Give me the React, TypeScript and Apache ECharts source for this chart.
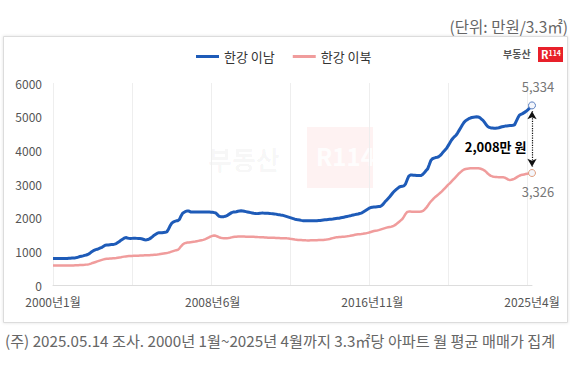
import React, { useEffect, useRef } from "react";
import * as echarts from "echarts";

const START_YEAR = 2000;
const END_YEAR = 2025;
const END_MONTH = 4;
const SERIES_NAMES = ["한강 이남", "한강 이북"];
const TITLE = "(단위: 만원/3.3㎡)";
const FOOTNOTE = "(주) 2025.05.14 조사. 2000년 1월~2025년 4월까지 3.3㎡당 아파트 월 평균 매매가 집계";
const Y_TICKS = [0, 1000, 2000, 3000, 4000, 5000, 6000];

// 한강 이남 (monthly, 2000.01 ~ 2025.04)
const SOUTH = [
  790, 790, 790, 790, 790, 790, 790, 790, 790, 790, 795, 795,
  800, 800, 805, 815, 830, 845, 855, 865, 880, 890, 905, 930,
  970, 1000, 1030, 1050, 1060, 1080, 1100, 1120, 1150, 1180, 1185, 1190,
  1195, 1200, 1205, 1215, 1230, 1260, 1290, 1330, 1360, 1390, 1410, 1395,
  1385, 1380, 1385, 1390, 1390, 1385, 1380, 1380, 1375, 1360, 1345, 1340,
  1350, 1370, 1400, 1440, 1480, 1510, 1540, 1550, 1555, 1555, 1560, 1565,
  1580, 1650, 1750, 1830, 1870, 1890, 1905, 1910, 1950, 2050, 2130, 2160,
  2185, 2200, 2195, 2170, 2165, 2165, 2170, 2170, 2165, 2165, 2170, 2170,
  2165, 2165, 2170, 2165, 2160, 2160, 2150, 2140, 2090, 2040, 2030, 2025,
  2030, 2040, 2060, 2090, 2120, 2150, 2165, 2170, 2175, 2190, 2200, 2205,
  2200, 2190, 2180, 2170, 2160, 2150, 2140, 2130, 2125, 2120, 2125, 2130,
  2135, 2135, 2130, 2130, 2130, 2125, 2120, 2115, 2110, 2105, 2095, 2090,
  2080, 2075, 2060, 2045, 2030, 2015, 2000, 1985, 1970, 1955, 1945, 1935,
  1930, 1920, 1912, 1910, 1908, 1908, 1910, 1910, 1910, 1908, 1910, 1912,
  1915, 1918, 1925, 1930, 1935, 1940, 1945, 1950, 1955, 1960, 1968, 1975,
  1980, 1985, 1995, 2005, 2015, 2025, 2035, 2045, 2055, 2070, 2080, 2090,
  2100, 2110, 2125, 2135, 2160, 2190, 2220, 2250, 2280, 2300, 2310, 2315,
  2320, 2325, 2330, 2335, 2360, 2410, 2470, 2520, 2570, 2620, 2680, 2740,
  2790, 2830, 2870, 2910, 2925, 2935, 2945, 3000, 3120, 3230, 3265, 3265,
  3260, 3260, 3255, 3250, 3250, 3255, 3290, 3340, 3400, 3450, 3570, 3700,
  3750, 3770, 3785, 3795, 3810, 3850, 3900, 3960, 4010, 4060, 4140, 4220,
  4300, 4360, 4410, 4450, 4520, 4600, 4680, 4760, 4830, 4880, 4910, 4940,
  4960, 4975, 4985, 4990, 4995, 4990, 4970, 4930, 4890, 4830, 4760, 4710,
  4680, 4665, 4660, 4655, 4655, 4660, 4670, 4685, 4700, 4710, 4720, 4725,
  4730, 4735, 4740, 4745, 4760, 4860, 4960, 5040, 5070, 5090, 5120, 5150,
  5190, 5230, 5280, 5334,
];

// 한강 이북 (monthly, 2000.01 ~ 2025.04)
const NORTH = [
  578, 578, 578, 578, 578, 578, 578, 578, 578, 579, 579, 580,
  580, 582, 585, 588, 590, 592, 594, 596, 600, 605, 612, 620,
  635, 655, 670, 685, 700, 715, 730, 745, 760, 772, 778, 782,
  785, 788, 792, 796, 802, 810, 818, 826, 835, 843, 850, 855,
  858, 861, 864, 866, 868, 870, 872, 874, 876, 878, 880, 881,
  883, 886, 890, 893, 897, 900, 905, 912, 920, 928, 936, 944,
  952, 962, 975, 990, 1005, 1020, 1035, 1045, 1090, 1150, 1200, 1235,
  1250, 1260, 1265, 1272, 1278, 1284, 1290, 1300, 1310, 1320, 1330, 1340,
  1355, 1375, 1400, 1425, 1445, 1460, 1468, 1460, 1440, 1420, 1405, 1395,
  1390, 1388, 1392, 1398, 1405, 1415, 1425, 1432, 1436, 1440, 1440, 1440,
  1438, 1438, 1436, 1436, 1436, 1434, 1432, 1430, 1428, 1425, 1422, 1420,
  1418, 1416, 1413, 1410, 1406, 1405, 1404, 1402, 1400, 1398, 1396, 1394,
  1392, 1390, 1388, 1386, 1385, 1380, 1372, 1365, 1358, 1350, 1345, 1340,
  1336, 1333, 1330, 1328, 1326, 1325, 1325, 1326, 1327, 1328, 1330, 1332,
  1334, 1336, 1338, 1340, 1345, 1350, 1358, 1368, 1380, 1392, 1404, 1415,
  1420, 1425, 1428, 1432, 1436, 1440, 1445, 1452, 1460, 1470, 1480, 1490,
  1498, 1505, 1510, 1515, 1522, 1530, 1538, 1548, 1560, 1575, 1590, 1605,
  1614, 1620, 1630, 1645, 1660, 1675, 1690, 1705, 1715, 1725, 1733, 1745,
  1770, 1800, 1840, 1880, 1920, 1960, 2030, 2110, 2170, 2180, 2180, 2178,
  2176, 2175, 2175, 2175, 2177, 2180, 2200, 2240, 2290, 2350, 2420, 2480,
  2530, 2580, 2620, 2660, 2700, 2740, 2780, 2830, 2880, 2930, 2980, 3020,
  3070, 3120, 3170, 3220, 3270, 3320, 3360, 3400, 3430, 3445, 3455, 3460,
  3465, 3468, 3470, 3470, 3468, 3465, 3460, 3445, 3425, 3400, 3360, 3310,
  3270, 3240, 3225, 3215, 3210, 3205, 3202, 3200, 3200, 3198, 3185, 3160,
  3130, 3120, 3125, 3140, 3160, 3190, 3220, 3245, 3265, 3275, 3285, 3295,
  3305, 3315, 3320, 3326,
];

const BLUE = "#1e5bb8";
const PINK = "#f09c9c";
const FONT = "'Noto Sans CJK KR', 'Noto Sans', sans-serif";

function buildCategories(): string[] {
  const out: string[] = [];
  for (let y = START_YEAR; y <= END_YEAR; y++) {
    for (let m = 1; m <= 12; m++) {
      if (y === END_YEAR && m > END_MONTH) break;
      out.push(`${y}년${m}월`);
    }
  }
  return out;
}

export default function App() {
  const ref = useRef<HTMLDivElement>(null);

  useEffect(() => {
    if (!ref.current) return;
    const chart = echarts.init(ref.current, null, { renderer: "svg" });
    const categories = buildCategories();
    const last = categories.length - 1;
    const southLast = SOUTH[last];
    const northLast = NORTH[last];
    const diff = southLast - northLast;

    const endPoint = (v: number, color: string, pos: string, off: number[]) => ({
      value: v,
      symbol: "circle",
      symbolSize: 7,
      itemStyle: { color: "#f4f6fb", borderColor: color, borderWidth: 1 },
      label: {
        show: true,
        position: pos,
        formatter: () => v.toLocaleString("en-US"),
        color: "#777",
        fontSize: 13,
        fontFamily: FONT,
        offset: off,
      },
    });

    const southData: any[] = SOUTH.map((v) => v);
    southData[last] = endPoint(southLast, "#5a7fc0", "top", [6, -3]);
    const northData: any[] = NORTH.map((v) => v);
    northData[last] = endPoint(northLast, "#e0a080", "bottom", [6, 3]);

    chart.setOption({
      animation: false,
      backgroundColor: "#fff",
      textStyle: { fontFamily: FONT },
      grid: { left: 53, right: 38, top: 83, bottom: 88, containLabel: false },
      legend: {
        data: SERIES_NAMES,
        top: 45,
        left: 191,
        icon: "rect",
        itemWidth: 23,
        itemHeight: 3,
        itemGap: 18,
        textStyle: { fontSize: 13, color: "#333", fontFamily: FONT },
      },
      xAxis: {
        type: "category",
        data: categories,
        boundaryGap: false,
        axisLine: { lineStyle: { color: "#ddd" } },
        axisTick: { show: false },
        axisLabel: {
          interval: (i: number) => i % 101 === 0,
          color: "#555",
          fontSize: 12,
          margin: 10,
          fontFamily: FONT,
        },
        splitLine: {
          show: true,
          interval: (i: number) => i % 50 === 0,
          lineStyle: { color: "#eeeeee", width: 1 },
        },
      },
      yAxis: {
        type: "value",
        min: Y_TICKS[0],
        max: Y_TICKS[Y_TICKS.length - 1],
        interval: Y_TICKS[1] - Y_TICKS[0],
        axisLine: { show: false },
        axisTick: { show: false },
        splitLine: { show: false },
        axisLabel: {
          color: "#555",
          fontSize: 12,
          margin: 11,
          fontFamily: FONT,
          formatter: (v: number) => String(v),
        },
      },
      graphic: [
        {
          type: "rect",
          z: -10,
          silent: true,
          shape: { x: 3.5, y: 36.5, width: 564, height: 286 },
          style: { fill: "#fff", stroke: "#dcdcdc", lineWidth: 1, shadowBlur: 3, shadowColor: "rgba(0,0,0,0.12)" },
        },
        {
          type: "text",
          right: 2,
          top: 18,
          style: { text: TITLE, fill: "#666", fontSize: 15.5, fontFamily: FONT },
        },
        {
          type: "text",
          left: 5,
          top: 332,
          style: { text: FOOTNOTE, fill: "#666", fontSize: 15.2, fontFamily: FONT },
        },
        // logo
        {
          type: "text",
          left: 503,
          top: 48,
          style: { text: "부동산", fill: "#555", fontSize: 10, fontWeight: "bold", fontFamily: FONT },
        },
        {
          type: "rect",
          shape: { x: 538, y: 47, width: 25, height: 15 },
          style: { fill: "#e8202a" },
        },
        {
          type: "text",
          left: 541,
          top: 48,
          style: {
            text: "{r|R}{n|114}",
            rich: {
              r: { fill: "#fff", fontSize: 11, fontWeight: "bold", fontFamily: FONT, verticalAlign: "bottom", lineHeight: 13 },
              n: { fill: "#fff", fontSize: 7, fontWeight: "bold", fontFamily: FONT, verticalAlign: "bottom", lineHeight: 13, padding: [0, 0, 2, 0] },
            },
          },
        },
        // watermark
        {
          type: "text",
          left: 208,
          top: 145,
          z: -5,
          style: { text: "부동산", fill: "rgba(0,0,0,0.04)", fontSize: 26, fontWeight: "bold", fontFamily: FONT },
        },
        {
          type: "rect",
          z: -5,
          shape: { x: 307, y: 127, width: 66, height: 61 },
          style: { fill: "rgba(230,40,40,0.06)" },
        },
        {
          type: "text",
          left: 316,
          top: 143,
          z: -4,
          style: { text: "R114", fill: "rgba(255,255,255,0.9)", fontSize: 24, fontWeight: "bold", fontFamily: FONT },
        },
      ],
      series: [
        {
          name: SERIES_NAMES[0],
          type: "line",
          data: southData,
          symbol: "none",
          showSymbol: true,
          showAllSymbol: true,
          lineStyle: { color: BLUE, width: 3 },
          itemStyle: { color: BLUE },
          z: 3,
          markLine: {
            silent: true,
            symbol: ["arrow", "arrow"],
            symbolSize: [7, 8],
            lineStyle: { type: "dotted", color: "#111", width: 1.2 },
            label: { show: false },
            data: [
              [
                { coord: [last, southLast - 170] },
                { coord: [last, northLast + 190] },
              ],
            ],
          },
          markPoint: {
            silent: true,
            data: [
              {
                coord: [last, (southLast + northLast) / 2],
                symbol: "circle",
                symbolSize: 1,
                itemStyle: { color: "rgba(0,0,0,0)" },
                label: {
                  show: true,
                  position: "left",
                  distance: 5,
                  offset: [0, 7],
                  formatter: () => `${diff.toLocaleString("en-US")}만 원`,
                  color: "#000",
                  fontSize: 13,
                  fontWeight: "bold",
                  fontFamily: FONT,
                },
              },
            ],
          },
        },
        {
          name: SERIES_NAMES[1],
          type: "line",
          data: northData,
          symbol: "none",
          showSymbol: true,
          showAllSymbol: true,
          lineStyle: { color: PINK, width: 2.5 },
          itemStyle: { color: PINK },
          z: 2,
        },
      ],
    });

    return () => chart.dispose();
  }, []);

  return (
    <div
      ref={ref}
      style={{ position: "fixed", left: 0, top: 0, width: 570, height: 373 }}
    />
  );
}
